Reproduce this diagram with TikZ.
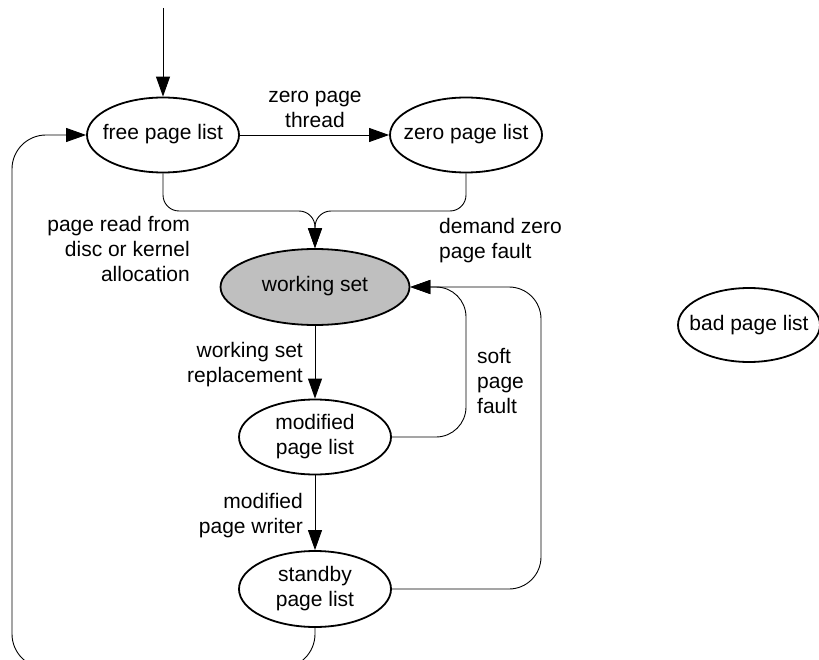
\documentclass[tikz,border=0pt]{standalone}
\usepackage{fontspec}
\setmainfont{Liberation Sans}
\usetikzlibrary{arrows.meta,shapes.geometric}

% text inside a list ellipse, kept out of the ellipse size
\newcommand{\plist}[1]{\makebox[0pt]{\begin{tabular}{@{}c@{}}#1\end{tabular}}}

\begin{document}
\begin{tikzpicture}[x=1pt,y=-1pt,
    font=\fontsize{21}{25}\selectfont,
    lst/.style={ellipse,draw,line width=1.8pt,minimum width=152pt,minimum height=75pt,inner sep=0pt},
    trans/.style={line width=0.9pt,-{Triangle[length=20pt,width=14pt]}},
    lbl/.style={inner sep=0pt}]
   \useasboundingbox (0,0) rectangle (819,660);
   \clip (0,0) rectangle (819,660);

   \draw (163,135) node[lst] (free) {\plist{free page list}};
   \draw (466,135) node[lst] (zero) {\plist{zero page list}};
   \draw (315,287) node[lst,fill=black!25,minimum width=189pt,minimum height=76pt] (ws) {\plist{working set}};
   \draw (315,437) node[lst] (mod) {\plist{modified\\page list}};
   \draw (315,589) node[lst,minimum height=76pt] (sb) {\plist{standby\\page list}};
   \draw (749,325) node[lst,minimum width=142pt,minimum height=74pt] (bad) {\plist{bad page list}};

   \coordinate (entry) at (163,8);
   \coordinate (merge) at (315,211);
   \coordinate (softc) at (466,287);
   \coordinate (backc) at (541,287);
   \coordinate (botc) at (12,668);

   \draw[trans] (entry) -- (free);
   \draw[trans] (free) -- (zero);
   \draw[trans,rounded corners=16pt] (free.south) |- (merge) -- (ws);
   \draw[trans,rounded corners=16pt] (zero.south) |- (merge) -- (ws);
   \draw[trans] (ws) -- (mod);
   \draw[trans] (mod) -- (sb);
   \draw[trans,rounded corners=30pt] (mod.east) -| (softc) -- (ws.east);
   \draw[trans,rounded corners=32pt] (sb.east) -| (backc) -- (ws.east);
   \draw[trans,rounded corners=34pt] (sb.south) |- (botc) |- (free.west);

   \node[lbl,anchor=south,align=center] (zlbl) at (315,128) {zero page\\thread};
   \node[lbl,anchor=north east,align=right] (rdlbl) at (190,216) {page read from\\disc or kernel\\allocation};
   \node[lbl,anchor=north west,align=left] (dzlbl) at (439,218) {demand zero\\page fault};
   \node[lbl,anchor=north east,align=right] (wslbl) at (303,342) {working set\\replacement};
   \node[lbl,anchor=north east,align=right] (mwlbl) at (303,493) {modified\\page writer};
   \node[lbl,anchor=north west,align=left] (sflbl) at (477,348) {soft\\page\\fault};
\end{tikzpicture}
\end{document}
